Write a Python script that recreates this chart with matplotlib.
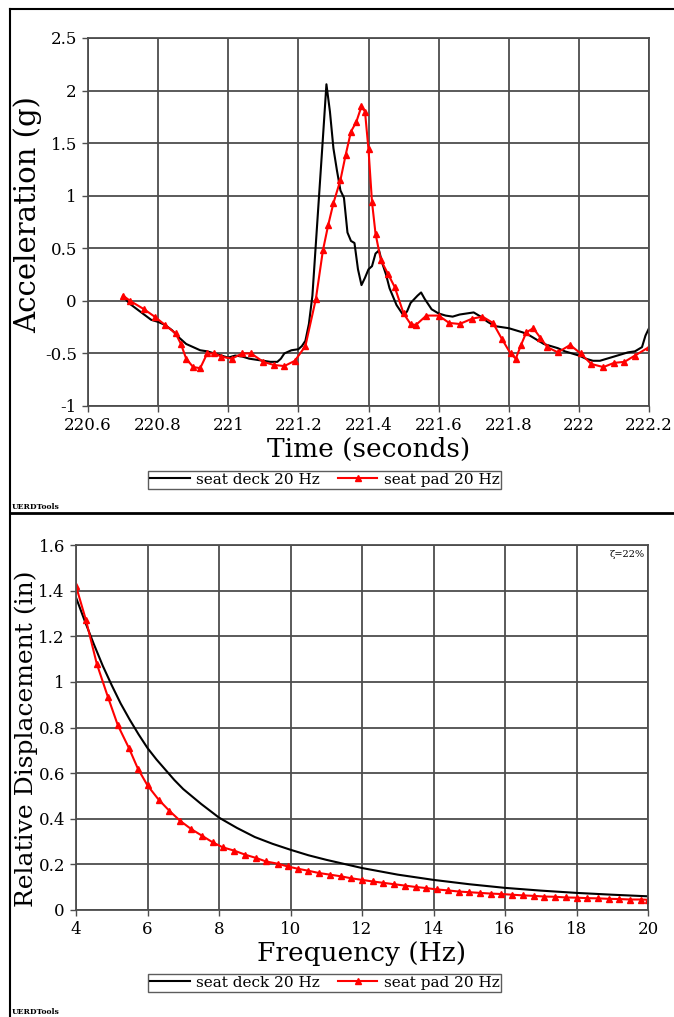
import numpy as np
import matplotlib
matplotlib.use("Agg")
from matplotlib import pyplot as plt
from matplotlib.lines import Line2D

plt.rcParams['font.family'] = ['DejaVu Serif']

# ---- top panel data: acceleration time history ----
t_deck = [220.70, 220.72, 220.74, 220.76, 220.78, 220.80, 220.82, 220.84, 220.86, 220.88,
          220.90, 220.92, 220.94, 220.96, 220.98, 221.00, 221.02, 221.04, 221.06, 221.08,
          221.10, 221.12, 221.14, 221.15, 221.16, 221.18, 221.20, 221.21, 221.22, 221.23,
          221.24, 221.25, 221.26, 221.27, 221.28, 221.29, 221.30, 221.31, 221.32, 221.33,
          221.34, 221.35, 221.36, 221.37, 221.38, 221.39, 221.40, 221.41, 221.42, 221.43,
          221.44, 221.45, 221.46, 221.48, 221.50, 221.51, 221.52, 221.54, 221.55, 221.56,
          221.58, 221.60, 221.62, 221.64, 221.66, 221.68, 221.70, 221.72, 221.74, 221.76,
          221.78, 221.80, 221.82, 221.84, 221.86, 221.88, 221.90, 221.92, 221.94, 221.96,
          221.98, 222.00, 222.02, 222.04, 222.06, 222.08, 222.10, 222.12, 222.14, 222.16,
          222.18, 222.19, 222.20]
a_deck = [0.04, -0.03, -0.08, -0.13, -0.18, -0.20, -0.23, -0.28, -0.35, -0.41,
          -0.44, -0.47, -0.48, -0.50, -0.52, -0.54, -0.52, -0.53, -0.55, -0.56,
          -0.57, -0.58, -0.58, -0.55, -0.50, -0.47, -0.46, -0.43, -0.38, -0.22,
          0.05, 0.55, 1.05, 1.55, 2.06, 1.80, 1.45, 1.24, 1.05, 0.98,
          0.65, 0.57, 0.55, 0.30, 0.15, 0.22, 0.30, 0.33, 0.45, 0.48,
          0.35, 0.25, 0.12, -0.04, -0.14, -0.10, -0.02, 0.05, 0.08, 0.02,
          -0.08, -0.12, -0.14, -0.15, -0.13, -0.12, -0.11, -0.15, -0.20, -0.24,
          -0.25, -0.26, -0.28, -0.30, -0.33, -0.37, -0.41, -0.43, -0.45, -0.48,
          -0.50, -0.52, -0.55, -0.57, -0.57, -0.55, -0.53, -0.51, -0.49, -0.48,
          -0.44, -0.33, -0.26]

t_pad = [220.70, 220.72, 220.76, 220.79, 220.82, 220.85, 220.865, 220.88, 220.90, 220.92,
         220.94, 220.96, 220.98, 221.01, 221.04, 221.065, 221.10, 221.13, 221.16, 221.19,
         221.22, 221.25, 221.27, 221.285, 221.30, 221.32, 221.335, 221.35, 221.365, 221.38,
         221.39, 221.40, 221.41, 221.42, 221.435, 221.455, 221.475, 221.50, 221.52, 221.535,
         221.565, 221.60, 221.63, 221.66, 221.695, 221.725, 221.755, 221.78, 221.805, 221.82,
         221.835, 221.85, 221.87, 221.89, 221.91, 221.94, 221.975, 222.005, 222.035, 222.07,
         222.10, 222.13, 222.16, 222.20]
a_pad = [0.05, 0.00, -0.08, -0.15, -0.23, -0.31, -0.41, -0.55, -0.63, -0.64,
         -0.50, -0.50, -0.53, -0.55, -0.50, -0.50, -0.58, -0.61, -0.62, -0.57,
         -0.43, 0.02, 0.48, 0.72, 0.93, 1.15, 1.39, 1.61, 1.70, 1.85,
         1.80, 1.44, 0.94, 0.64, 0.39, 0.26, 0.13, -0.12, -0.22, -0.23,
         -0.14, -0.14, -0.21, -0.22, -0.17, -0.15, -0.21, -0.36, -0.50, -0.55,
         -0.42, -0.30, -0.26, -0.35, -0.44, -0.49, -0.42, -0.50, -0.60, -0.63,
         -0.59, -0.58, -0.52, -0.44]

t_ticks = [220.6, 220.8, 221.0, 221.2, 221.4, 221.6, 221.8, 222.0, 222.2]
t_ticklabels = ['220.6', '220.8', '221', '221.2', '221.4', '221.6', '221.8', '222', '222.2']
a_ticks = [-1, -0.5, 0, 0.5, 1, 1.5, 2, 2.5]
a_ticklabels = ['-1', '-0.5', '0', '0.5', '1', '1.5', '2', '2.5']

# ---- bottom panel data: relative displacement spectrum ----
f_deck = [4.0, 4.25, 4.5, 4.75, 5.0, 5.25, 5.5, 5.75, 6.0, 6.25, 6.5, 6.75, 7.0, 7.5, 8.0,
          8.5, 9.0, 9.5, 10.0, 10.5, 11.0, 12.0, 13.0, 14.0, 15.0, 16.0, 17.0, 18.0, 19.0, 20.0]
d_deck = [1.37, 1.265, 1.165, 1.07, 0.985, 0.905, 0.835, 0.77, 0.71, 0.66, 0.615, 0.57, 0.53, 0.465, 0.405,
          0.36, 0.32, 0.29, 0.264, 0.24, 0.22, 0.184, 0.155, 0.132, 0.113, 0.097, 0.085, 0.075, 0.067, 0.06]

f_pad = [4.0, 4.28, 4.58, 4.89, 5.17, 5.48, 5.73, 6.0, 6.31, 6.61, 6.92, 7.22, 7.53, 7.82,
         8.1, 8.43, 8.74, 9.04, 9.31, 9.64, 9.92, 10.2, 10.5, 10.8, 11.1, 11.4, 11.7, 12.0,
         12.3, 12.6, 12.9, 13.2, 13.5, 13.8, 14.1, 14.4, 14.7, 15.0, 15.3, 15.6, 15.9, 16.2,
         16.5, 16.8, 17.1, 17.4, 17.7, 18.0, 18.3, 18.6, 18.9, 19.2, 19.5, 19.8, 20.0]
d_pad = [1.42, 1.27, 1.08, 0.935, 0.81, 0.71, 0.62, 0.546, 0.484, 0.435, 0.39, 0.355, 0.325, 0.297,
         0.275, 0.26, 0.242, 0.228, 0.213, 0.203, 0.191, 0.181, 0.172, 0.162, 0.155, 0.148, 0.139, 0.132,
         0.125, 0.119, 0.113, 0.107, 0.101, 0.096, 0.09, 0.086, 0.081, 0.078, 0.075, 0.072, 0.07, 0.067,
         0.064, 0.062, 0.059, 0.058, 0.055, 0.054, 0.052, 0.051, 0.049, 0.048, 0.046, 0.046, 0.045]

f_ticks = [4, 6, 8, 10, 12, 14, 16, 18, 20]
d_ticks = [0, 0.2, 0.4, 0.6, 0.8, 1.0, 1.2, 1.4, 1.6]
d_ticklabels = ['0', '0.2', '0.4', '0.6', '0.8', '1', '1.2', '1.4', '1.6']

series_names = ['seat deck 20 Hz', 'seat pad 20 Hz']

W, H = 674, 1017
fig = plt.figure(figsize=(W / 100, H / 100), dpi=100)

grid_col = '#4d4d4d'


def style_axes(ax):
    ax.grid(True, color=grid_col, linewidth=1.3)
    ax.set_axisbelow(True)
    for s in ax.spines.values():
        s.set_color(grid_col)
        s.set_linewidth(1.3)
    ax.tick_params(direction='out', length=4, width=1, color=grid_col,
                   labelsize=12, pad=4)


# top chart
ax1 = fig.add_axes([88 / W, 1 - 406 / H, (649 - 88) / W, (406 - 38) / H])
ax1.plot(t_deck, a_deck, color='black', linewidth=1.5)
ax1.plot(t_pad, a_pad, color='red', linewidth=1.5, marker='^', markersize=4)
ax1.set_xlim(220.6, 222.2)
ax1.set_ylim(-1, 2.5)
ax1.set_xticks(t_ticks)
ax1.set_xticklabels(t_ticklabels)
ax1.set_yticks(a_ticks)
ax1.set_yticklabels(a_ticklabels)
style_axes(ax1)
ax1.set_xlabel('Time (seconds)', fontsize=19, labelpad=2)
ax1.set_ylabel('Acceleration (g)', fontsize=21)
ax1.yaxis.set_label_coords((42 - 88) / 561, 0.52)

# bottom chart
ax2 = fig.add_axes([76 / W, 1 - 910 / H, (648 - 76) / W, (910 - 545) / H])
ax2.plot(f_deck, d_deck, color='black', linewidth=1.5)
ax2.plot(f_pad, d_pad, color='red', linewidth=1.5, marker='^', markersize=4)
ax2.set_xlim(4, 20)
ax2.set_ylim(0, 1.6)
ax2.set_xticks(f_ticks)
ax2.set_yticks(d_ticks)
ax2.set_yticklabels(d_ticklabels)
style_axes(ax2)
ax2.set_xlabel('Frequency (Hz)', fontsize=19, labelpad=2)
ax2.set_ylabel('Relative Displacement (in)', fontsize=18)
ax2.yaxis.set_label_coords((38 - 76) / 572, 0.47)
ax2.text(0.995, 0.985, '\u03b6=22%', transform=ax2.transAxes, ha='right', va='top',
         fontsize=7)

# legends
handles = [Line2D([], [], color='black', linewidth=1.5),
           Line2D([], [], color='red', linewidth=1.5, marker='^', markersize=4)]
for ytop in (471, 974):
    leg = fig.legend(handles, series_names, loc='upper left',
                     bbox_to_anchor=(148 / W, 1 - ytop / H), ncol=2, fontsize=11,
                     frameon=True, fancybox=False, edgecolor='#333333',
                     borderpad=0.12, handlelength=2.6, handletextpad=0.4,
                     columnspacing=1.2, borderaxespad=0)
    leg.get_frame().set_linewidth(1.0)

# page frame and footer text
frame_kw = dict(color='black', transform=fig.transFigure, clip_on=False)
fig.add_artist(Line2D([10 / W, 1], [1 - 9 / H, 1 - 9 / H], linewidth=1.5, **frame_kw))
fig.add_artist(Line2D([10 / W, 10 / W], [0, 1 - 9 / H], linewidth=1.5, **frame_kw))
fig.add_artist(Line2D([10 / W, 1], [1 - 513 / H, 1 - 513 / H], linewidth=2.0, **frame_kw))
for yb in (507, 1012):
    fig.text(12 / W, 1 - yb / H, 'UERDTools', fontsize=5.5, fontweight='bold',
             va='center', ha='left')

fig.savefig('out.png', dpi=100)
